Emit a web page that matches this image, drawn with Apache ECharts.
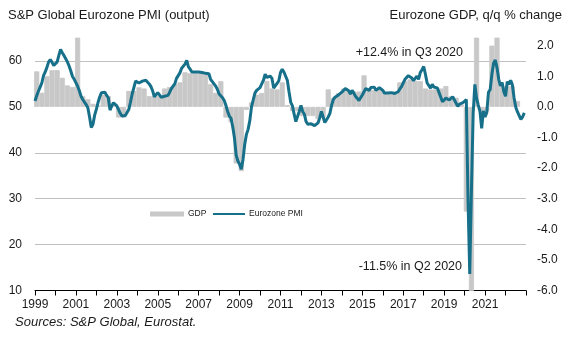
<!DOCTYPE html>
<html>
<head>
<meta charset="utf-8">
<script src="https://cdn.jsdelivr.net/npm/echarts@6/dist/echarts.min.js"></script>
<style>
  html, body { margin: 0; padding: 0; background: #fff; }
  #chart { width: 569px; height: 343px; }
</style>
</head>
<body>
<div id="chart"></div>
<script>
// Eurozone PMI output index, monthly, Jan 1999 - Dec 2022
const pmiStartYear = 1999;
const pmiOutput = [
  51.3, 52.4, 53.4, 54.3, 55.2, 56.8, 57.6, 58.6, 59.8, 60.3, 59.7, 59.0, // 1999
  58.9, 59.8, 61.2, 62.5, 61.8, 61.2, 61.0, 59.8, 58.9, 57.8, 56.6, 56.0, // 2000
  55.6, 54.5, 53.5, 52.3, 51.6, 51.2, 50.5, 49.8, 47.8, 45.5, 46.2, 48.2, // 2001
  49.5, 51.0, 52.2, 53.1, 53.0, 53.2, 52.5, 52.0, 49.3, 50.2, 50.9, 50.6, // 2002
  50.2, 50.0, 48.6, 48.0, 48.3, 48.1, 48.3, 49.4, 51.0, 52.8, 54.2, 55.6, // 2003
  56.0, 55.2, 54.8, 55.6, 56.0, 55.8, 55.6, 55.0, 54.4, 53.5, 52.2, 52.6, // 2004
  53.1, 53.0, 52.1, 52.0, 52.3, 52.6, 52.5, 53.2, 54.0, 54.3, 55.0, 56.2, // 2005
  56.8, 57.4, 58.4, 58.6, 59.3, 60.1, 58.7, 58.2, 57.6, 57.4, 57.6, 57.5, // 2006
  57.6, 57.7, 57.5, 57.3, 57.3, 57.6, 57.2, 56.0, 55.5, 55.0, 54.5, 53.8, // 2007
  52.8, 52.4, 52.0, 51.4, 50.3, 49.0, 48.0, 47.5, 45.6, 43.2, 39.5, 38.2, // 2008
  37.5, 36.4, 38.5, 41.8, 44.0, 45.1, 47.0, 50.0, 51.5, 53.0, 53.6, 53.8, // 2009
  54.2, 54.4, 55.8, 57.1, 56.4, 56.0, 56.7, 56.2, 54.1, 53.8, 55.1, 55.7, // 2010
  57.5, 58.2, 57.6, 57.4, 55.8, 53.3, 51.0, 50.2, 48.4, 46.8, 47.2, 49.0, // 2011
  50.3, 49.0, 48.4, 46.8, 46.2, 46.2, 46.3, 46.0, 45.9, 45.7, 46.5, 47.6, // 2012
  49.0, 47.8, 46.6, 46.9, 47.8, 48.6, 50.4, 51.6, 52.1, 52.2, 52.6, 52.8, // 2013
  53.2, 53.6, 54.0, 54.4, 53.5, 52.8, 53.6, 53.0, 52.3, 52.1, 51.4, 51.5, // 2014
  52.6, 53.3, 54.0, 53.9, 53.6, 54.2, 53.9, 54.3, 53.6, 53.9, 54.2, 54.3, // 2015
  53.6, 53.0, 53.1, 53.0, 53.1, 53.1, 53.2, 52.9, 52.6, 53.3, 53.9, 54.4, // 2016
  54.4, 56.0, 56.4, 56.8, 56.8, 56.3, 55.7, 55.7, 56.7, 56.0, 57.5, 58.1, // 2017
  58.8, 57.1, 55.2, 55.1, 54.1, 54.9, 54.3, 54.5, 54.1, 53.1, 52.7, 51.1, // 2018
  51.0, 51.9, 51.6, 51.5, 51.8, 52.2, 51.5, 51.9, 50.1, 50.6, 50.6, 50.9, // 2019
  51.3, 51.6, 29.7, 13.6, 31.9, 48.5, 54.9, 51.9, 50.4, 49.0, 45.3, 49.1, // 2020
  47.8, 48.8, 53.2, 53.8, 57.1, 59.5, 60.2, 58.5, 56.0, 54.6, 55.3, 53.3, // 2021
  52.3, 55.5, 54.9, 55.8, 54.8, 52.0, 49.9, 48.9, 48.1, 47.3, 47.8, 48.7  // 2022
];

// Eurozone GDP, q/q % change, Q1 1999 - Q3 2022
const gdpStartYear = 1999;
const gdpQoQ = [
  1.16, 0.46, 1.0, 1.2,     // 1999
  1.2, 0.95, 0.7, 0.65,     // 2000
  2.6, 0.35, 0.25, 0.1,     // 2001
  0.05, 0.4, 0.35, 0.05,    // 2002
  -0.35, -0.35, 0.52, 0.52, // 2003
  0.64, 0.6, 0.35, 0.35,    // 2004
  0.35, 0.6, 0.65, 0.75,    // 2005
  0.8, 1.13, 1.1, 1.1,      // 2006
  1.1, 1.06, 0.74, 0.46,    // 2007
  0.84, -0.35, -0.5, -1.85, // 2008
  -2.1, -0.1, 0.15, 0.4,    // 2009
  0.45, 0.85, 0.6, 0.57,    // 2010
  0.8, 0.06, -0.14, -0.14,  // 2011
  -0.3, -0.3, -0.3, -0.4,   // 2012
  -0.35, 0.57, 0.3, 0.45,   // 2013
  0.6, 0.55, 0.5, 0.5,      // 2014
  1.03, 0.6, 0.55, 0.57,    // 2015
  0.47, 0.45, 0.5, 0.8,     // 2016
  0.85, 0.9, 0.85, 0.84,    // 2017
  0.6, 0.57, 0.57, 0.6,     // 2018
  0.68, 0.35, 0.3, 0.08,    // 2019
  -3.42, -11.5, 12.4, -0.15,// 2020
  -0.15, 2.0, 2.4, 0.68,    // 2021
  0.68, 0.68, 0.19          // 2022
];

// Axis settings
const yearMin = 1999;
const yearMax = 2023;
const pmiAxisMin = 10, pmiAxisMax = 65, pmiStep = 10;
const gdpAxisMin = -6, gdpAxisMax = 2.25, gdpStep = 1;

// Texts
const titleLeft = 'S&P Global Eurozone PMI (output)';
const titleRight = 'Eurozone GDP, q/q % change';
const noteHigh = '+12.4% in Q3 2020';
const noteLow = '-11.5% in Q2 2020';
const sourceNote = 'Sources: S&P Global, Eurostat.';
const legendNames = ['GDP', 'Eurozone PMI'];

// Monthly points sit at the start of each month
const pmiPoints = pmiOutput.map((v, i) => [pmiStartYear + i / 12, v]);
// Quarterly bars are centred on the middle month of each quarter
const gdpPoints = gdpQoQ.map((v, i) => [gdpStartYear + i / 4 + 1 / 12, v]);

const FONT = '"Liberation Sans", Arial, sans-serif';
const TEXT = '#1a1a1a';
const GRID = '#c0c0c0';
const BAR = '#c8c8c8';
const LINE = '#16708a';

const W = 569, H = 343;
const gridBox = { left: 35, right: 43, top: 38, bottom: 52.5 };
// one quarter of a year in pixels, so neighbouring bars touch
const quarterPx = (W - gridBox.left - gridBox.right) / ((yearMax - yearMin) * 4);

const chart = echarts.init(document.getElementById('chart'), null, { renderer: 'canvas' });

chart.setOption({
  animation: false,
  backgroundColor: '#ffffff',
  textStyle: { fontFamily: FONT },
  grid: Object.assign({ containLabel: false }, gridBox),
  xAxis: {
    type: 'value', min: yearMin, max: yearMax, interval: 1,
    axisLine: { onZero: false, lineStyle: { color: '#000', width: 1 } },
    axisTick: { show: true, length: 5, lineStyle: { color: '#000' } },
    splitLine: { show: false },
    axisLabel: {
      margin: 8, fontSize: 12, color: TEXT, fontFamily: FONT,
      showMinLabel: true, showMaxLabel: true,
      formatter: v => (Math.round(v) % 2 === 1 && v < yearMax) ? String(Math.round(v)) : ''
    }
  },
  yAxis: [
    {
      type: 'value', position: 'left', min: pmiAxisMin, max: pmiAxisMax, interval: pmiStep,
      axisLine: { show: false }, axisTick: { show: false },
      axisLabel: { margin: 13, fontSize: 12, color: TEXT, fontFamily: FONT, showMaxLabel: false },
      splitLine: {
        show: true, showMinLine: false, showMaxLine: false,
        lineStyle: { width: 1, color: [GRID, GRID, GRID, 'rgba(0,0,0,0)', GRID] }
      }
    },
    {
      type: 'value', position: 'right', min: gdpAxisMin, max: gdpAxisMax, interval: gdpStep,
      axisLine: { show: false }, axisTick: { show: false },
      axisLabel: {
        margin: 11, fontSize: 12, color: TEXT, fontFamily: FONT, showMaxLabel: false,
        formatter: v => v.toFixed(1)
      },
      splitLine: { show: false }
    }
  ],
  series: [
    {
      name: legendNames[0], type: 'bar', yAxisIndex: 1,
      data: gdpPoints, barWidth: quarterPx, clip: true,
      // thin outline in the fill colour closes sub-pixel seams between neighbouring bars
      itemStyle: { color: BAR, borderColor: BAR, borderWidth: 0.8 }, z: 1
    },
    {
      name: legendNames[1], type: 'line', yAxisIndex: 0,
      data: pmiPoints, showSymbol: false, symbol: 'none',
      lineStyle: { color: LINE, width: 3 }, itemStyle: { color: LINE },
      clip: true, z: 3
    }
  ],
  graphic: [
    { type: 'text', left: 8, top: 9, style: { text: titleLeft, font: '13px ' + FONT, fill: TEXT } },
    { type: 'text', right: 7, top: 9, style: { text: titleRight, font: '13px ' + FONT, fill: TEXT } },
    { type: 'text', right: 106, top: 46, style: { text: noteHigh, font: '12.5px ' + FONT, fill: TEXT } },
    { type: 'text', right: 107, top: 260, style: { text: noteLow, font: '12.5px ' + FONT, fill: TEXT } },
    { type: 'text', left: 15, top: 316, style: { text: sourceNote, font: 'italic 13px ' + FONT, fill: TEXT } },
    // legend
    { type: 'rect', shape: { x: 150, y: 211.5, width: 34, height: 5 }, style: { fill: BAR } },
    { type: 'text', x: 188, y: 214, style: { text: legendNames[0], font: '8.5px ' + FONT, fill: TEXT, verticalAlign: 'middle' } },
    { type: 'line', shape: { x1: 213, y1: 214, x2: 245, y2: 214 }, style: { stroke: LINE, lineWidth: 2 } },
    { type: 'text', x: 249, y: 214, style: { text: legendNames[1], font: '8.5px ' + FONT, fill: TEXT, verticalAlign: 'middle' } }
  ]
});
</script>
</body>
</html>
